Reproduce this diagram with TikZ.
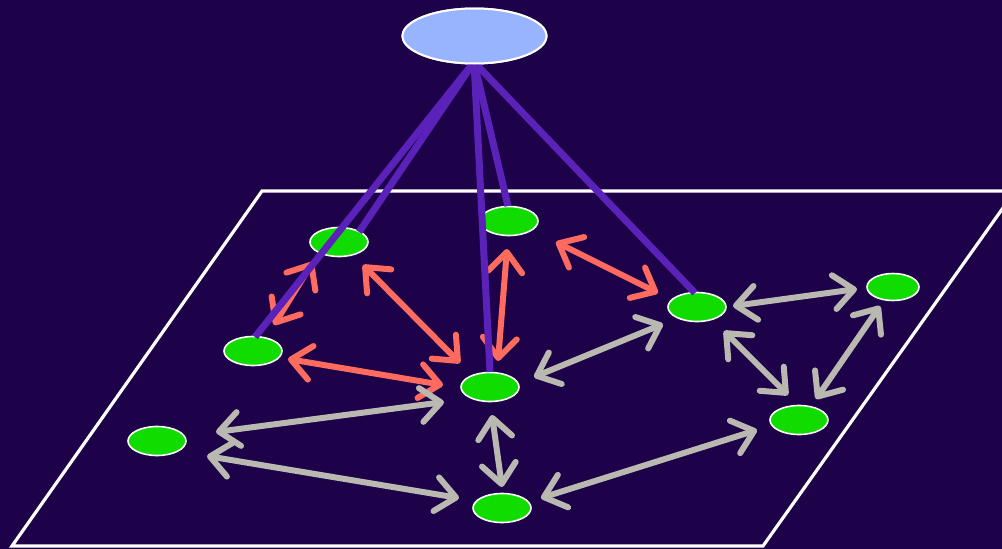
\documentclass[tikz,border=0pt]{standalone}
\usetikzlibrary{shapes.geometric,arrows.meta,calc}
\definecolor{bg}{HTML}{1D0249}
\definecolor{nodegreen}{HTML}{10DC00}
\definecolor{rootblue}{HTML}{99B4FF}
\definecolor{linkpurple}{HTML}{5A22B8}
\definecolor{linkred}{HTML}{FF6B5F}
\definecolor{linkgray}{HTML}{B9B9B2}
\tikzset{
  peer/.style={ellipse, fill=nodegreen, draw=white, line width=1.6pt,
    minimum width=58pt, minimum height=29pt, inner sep=0pt},
  root/.style={ellipse, fill=rootblue, draw=white, line width=2pt,
    minimum width=144pt, minimum height=55pt, inner sep=0pt},
  barb/.tip={Straight Barb[length=20pt, width=34pt, round]},
  redlink/.style={draw=linkred, line width=6pt, line cap=round, {barb}-{barb}},
  graylink/.style={draw=linkgray, line width=6pt, line cap=round, {barb}-{barb}},
  rootlink/.style={draw=linkpurple, line width=7pt},
  plane/.style={draw=white, line width=3.2pt, line join=miter}
}
\begin{document}
\begin{tikzpicture}[x=1pt, y=-1pt]
  \useasboundingbox (0,0) rectangle (1002,549);
  \clip (0,0) rectangle (1002,549);
  \fill[bg] (0,0) rectangle (1002,549);

  % the plane that holds the peers
  \draw[plane] (262,191) -- (1015,191) -- (763,546) -- (12,546) -- cycle;

  % peers
  \node[peer] (A) at (339,242) {};
  \node[peer] (B) at (509,221) {};
  \node[peer] (C) at (253,351) {};
  \node[peer] (D) at (490,387) {};
  \node[peer] (E) at (697,307) {};
  \node[peer, minimum width=52pt, minimum height=27pt] (F) at (893,287) {};
  \node[peer] (G) at (799,420) {};
  \node[peer] (H) at (157,441) {};
  \node[peer] (I) at (502,508) {};

  % links among the nodes reached from the root
  \draw[redlink] ($(A)+(-26,20)$) -- ($(C)+(21,-26)$);
  \draw[redlink] ($(A)+(24,23)$) -- ($(D)+(-30,-24)$);
  \draw[redlink] ($(C)+(35,8)$) -- ($(D)+(-47,-2)$);
  \draw[redlink] ($(B)+(-2,28)$) -- ($(D)+(8,-26)$);
  \draw[redlink] ($(B)+(47,21)$) -- ($(E)+(-39,-14)$);

  % remaining peer links
  \draw[graylink] ($(E)+(36,-1)$) -- ($(F)+(-36,2)$);
  \draw[graylink] ($(D)+(44,-10)$) -- ($(E)+(-34,17)$);
  \draw[graylink] ($(E)+(27,24)$) -- ($(G)+(-11,-25)$);
  \draw[graylink] ($(F)+(-13,19)$) -- ($(G)+(17,-21)$);
  \draw[graylink] ($(D)+(-46,15)$) -- ($(H)+(59,-9)$);
  \draw[graylink] ($(D)+(2,28)$) -- ($(I)+(0,-21)$);
  \draw[graylink] ($(H)+(50,15)$) -- ($(I)+(-43,-10)$);
  \draw[graylink] ($(I)+(39,-10)$) -- ($(G)+(-42,10)$);

  % root and its links
  \node[root] (R) at (474.5,36) {};
  \coordinate (Rb) at (474,62);
  \draw[rootlink] (Rb) -- ($(C)+(2,-14)$);
  \draw[rootlink] (Rb) -- ($(A)+(20,-10)$);
  \draw[rootlink] (Rb) -- ($(D)+(0,-15)$);
  \draw[rootlink] (Rb) -- ($(B)+(-1,-15)$);
  \draw[rootlink] (Rb) -- ($(E)+(-2,-14)$);
  \node[root] at (R) {};
\end{tikzpicture}
\end{document}
